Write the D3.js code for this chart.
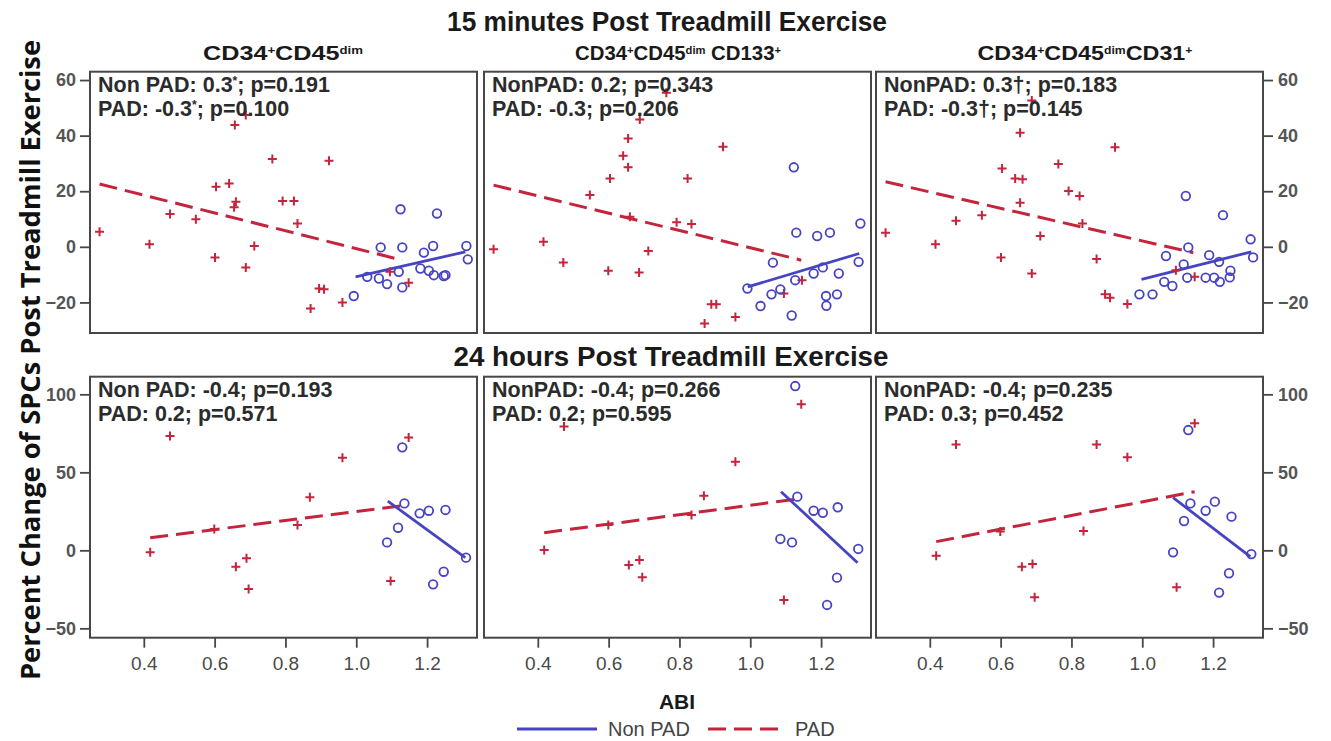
<!DOCTYPE html>
<html><head><meta charset="utf-8">
<script src="https://cdn.jsdelivr.net/npm/d3@7"></script>
<style>body{margin:0;background:#fff}svg{display:block}</style>
</head><body>
<svg id="chart" width="1331" height="741"></svg>
<script>
// ---------- DATA ----------
const xTicks = [0.4, 0.6, 0.8, 1.0, 1.2];
const yTicksTop = [-20, 0, 20, 40, 60];
const yTicksBottom = [-50, 0, 50, 100];
const rowTitles = ["15 minutes Post Treadmill Exercise", "24 hours Post Treadmill Exercise"];
const columnTitles = [
  [["CD34",""],["+","sup"],["CD45",""],["dim","sup"]],
  [["CD34",""],["+","sup"],["CD45",""],["dim","sup"],[" CD133",""],["+","sup"]],
  [["CD34",""],["+","sup"],["CD45",""],["dim","sup"],["CD31",""],["+","sup"]]
];
const statsNonPAD = [
  [["Non PAD: 0.3",""],["*","sup"],["; p=0.191",""]],
  [["NonPAD: 0.2; p=0.343",""]],
  [["NonPAD: 0.3†; p=0.183",""]],
  [["Non PAD: -0.4; p=0.193",""]],
  [["NonPAD: -0.4; p=0.266",""]],
  [["NonPAD: -0.4; p=0.235",""]]
];
const statsPAD = [
  [["PAD: -0.3",""],["*","sup"],["; p=0.100",""]],
  [["PAD: -0.3; p=0.206",""]],
  [["PAD: -0.3†; p=0.145",""]],
  [["PAD: 0.2; p=0.571",""]],
  [["PAD: 0.2; p=0.595",""]],
  [["PAD: 0.3; p=0.452",""]]
];
const legendLabels = ["Non PAD", "PAD"];
const xAxisTitle = "ABI";
const yAxisTitle = "Percent Change of SPCs Post Treadmill Exercise";

// 15 min, CD34+CD45dim
const m15A_pad = [[0.275,5.4],[0.416,0.9],[0.474,11.8],[0.547,9.9],[0.604,21.6],[0.641,22.8],[0.660,16.2],[0.655,14.2],[0.657,43.8],[0.688,47.4],[0.601,-3.8],[0.688,-7.4],[0.712,0.3],[0.763,31.6],[0.792,16.5],[0.824,16.5],[0.834,8.4],[0.923,31.0],[0.895,-15.0],[0.909,-15.3],[0.871,-22.2],[0.961,-20.0],[1.095,-9.0],[1.148,-12.9]];
const m15A_non = [[0.993,-17.7],[1.031,-10.8],[1.064,-11.4],[1.087,-13.4],[1.069,-0.2],[1.130,-0.2],[1.125,13.5],[1.120,-9.0],[1.130,-14.6],[1.181,-7.8],[1.191,-2.1],[1.205,-8.6],[1.217,0.3],[1.219,-10.2],[1.228,12.0],[1.247,-10.5],[1.252,-10.2],[1.311,0.3],[1.315,-4.5]];
const m15A_padFit = [[0.275,22.6],[1.130,-4.8]];
const m15A_nonFit = [[0.998,-10.8],[1.308,-1.8]];
// 15 min, CD34+CD45dimCD133+
const m15B_pad = [[0.275,-0.9],[0.416,1.8],[0.472,-5.6],[0.547,18.6],[0.604,24.6],[0.641,32.8],[0.655,28.6],[0.655,39.0],[0.763,55.4],[0.688,45.8],[0.599,-8.6],[0.686,-9.2],[0.712,-1.5],[0.823,24.6],[0.792,8.8],[0.834,8.2],[0.923,36.0],[0.660,10.8],[0.890,-20.7],[0.904,-20.7],[0.871,-27.6],[0.958,-25.2],[1.095,-16.8],[1.146,-12.0]];
const m15B_non = [[0.992,-15.0],[1.029,-21.3],[1.064,-5.7],[1.060,-17.1],[1.085,-15.3],[1.123,28.6],[1.130,5.1],[1.127,-12.0],[1.117,-24.7],[1.179,-9.6],[1.189,3.9],[1.205,-7.4],[1.225,5.1],[1.250,-9.6],[1.214,-17.7],[1.245,-17.1],[1.215,-21.2],[1.311,8.4],[1.306,-5.4]];
const m15B_padFit = [[0.275,22.2],[1.144,-4.8]];
const m15B_nonFit = [[0.993,-14.4],[1.308,-2.4]];
// 15 min, CD34+CD45dimCD31+
const m15C_pad = [[0.275,5.1],[0.416,0.9],[0.474,9.4],[0.547,11.4],[0.604,28.2],[0.641,24.6],[0.662,24.3],[0.655,41.0],[0.688,52.6],[0.655,15.9],[0.601,-3.8],[0.688,-9.6],[0.712,3.9],[0.763,29.8],[0.792,20.1],[0.823,18.3],[0.831,8.4],[0.923,35.8],[0.871,-4.4],[0.895,-17.1],[0.909,-18.3],[0.958,-20.6],[1.095,-8.4],[1.148,-10.8]];
const m15C_non = [[0.992,-17.1],[1.029,-17.1],[1.067,-3.3],[1.062,-12.6],[1.085,-14.1],[1.123,18.3],[1.130,-0.2],[1.117,-6.3],[1.127,-11.1],[1.179,-11.1],[1.189,-3.0],[1.203,-11.1],[1.217,-5.4],[1.219,-12.6],[1.228,11.4],[1.249,-8.6],[1.247,-11.0],[1.306,2.7],[1.313,-3.8]];
const m15C_padFit = [[0.275,23.4],[1.144,-2.1]];
const m15C_nonFit = [[0.998,-11.7],[1.308,-1.8]];
// 24 h, CD34+CD45dim
const h24A_pad = [[0.418,-1.3],[0.474,73.3],[0.599,13.7],[0.660,-10.5],[0.690,-5.1],[0.696,-24.8],[0.834,16.2],[0.869,34.0],[0.961,59.4],[1.097,-19.7],[1.148,72.4]];
const h24A_non = [[1.087,5.1],[1.118,14.5],[1.130,66.0],[1.136,30.1],[1.179,23.7],[1.205,25.4],[1.217,-21.8],[1.247,-13.7],[1.252,25.9],[1.310,-4.7]];
const h24A_padFit = [[0.418,8.1],[1.130,28.6]];
const h24A_nonFit = [[1.089,31.6],[1.308,-4.7]];
// 24 h, CD34+CD45dimCD133+
const h24B_pad = [[0.418,0.2],[0.474,79.3],[0.599,16.2],[0.657,-9.4],[0.687,-6.2],[0.695,-17.3],[0.834,22.6],[0.869,35.0],[0.958,56.8],[1.095,-31.8],[1.144,93.6]];
const h24B_non = [[1.085,7.3],[1.118,5.1],[1.127,105.3],[1.133,34.4],[1.179,25.4],[1.205,24.1],[1.247,27.6],[1.245,-17.5],[1.217,-35.0],[1.305,0.9]];
const h24B_padFit = [[0.418,11.3],[1.125,32.7]];
const h24B_nonFit = [[1.087,37.6],[1.303,-7.9]];
// 24 h, CD34+CD45dimCD31+
const h24C_pad = [[0.418,-3.4],[0.474,67.9],[0.599,12.0],[0.660,-10.5],[0.690,-8.8],[0.696,-30.1],[0.834,12.4],[0.871,67.9],[0.958,59.6],[1.097,-23.7],[1.148,81.4]];
const h24C_non = [[1.087,-1.3],[1.118,18.8],[1.130,77.1],[1.136,30.1],[1.179,25.4],[1.205,31.2],[1.252,21.6],[1.245,-14.7],[1.217,-27.1],[1.308,-2.4]];
const h24C_padFit = [[0.418,5.6],[1.148,37.6]];
const h24C_nonFit = [[1.087,33.8],[1.305,-4.1]];

const panelData = [
  {pad:m15A_pad, non:m15A_non, padFit:m15A_padFit, nonFit:m15A_nonFit},
  {pad:m15B_pad, non:m15B_non, padFit:m15B_padFit, nonFit:m15B_nonFit},
  {pad:m15C_pad, non:m15C_non, padFit:m15C_padFit, nonFit:m15C_nonFit},
  {pad:h24A_pad, non:h24A_non, padFit:h24A_padFit, nonFit:h24A_nonFit},
  {pad:h24B_pad, non:h24B_non, padFit:h24B_padFit, nonFit:h24B_nonFit},
  {pad:h24C_pad, non:h24C_non, padFit:h24C_padFit, nonFit:h24C_nonFit}
];

// ---------- LAYOUT ----------
const svg = d3.select("#chart");
const colLeft = [90, 484, 876];
const panelW = 387;
const rowTop = [71.7, 376.7];
const rowBottom = [333, 637.7];
const xDomain = [0.248, 1.341];
const yDomains = [[-31, 63], [-56, 111.3]];
const yTickSets = [yTicksTop, yTicksBottom];
const RED = "#c4243c", BLUE = "#4744c2", FRAME = "#474747", TICKTXT = "#555";
const titleFont = "'Liberation Sans Narrow','Liberation Sans',Arial,sans-serif";
const bodyFont = "'Liberation Sans',Arial,sans-serif";

function richText(sel, parts, supSize) {
  parts.forEach(([t, k]) => {
    const ts = sel.append("tspan").text(t);
    if (k === "sup") ts.attr("font-size", supSize).attr("baseline-shift", "super");
  });
}

// Row and column titles
svg.append("text").attr("x", 667).attr("y", 31).attr("text-anchor", "middle")
  .attr("font-family", titleFont).attr("font-weight", "bold").attr("font-size", 27)
  .attr("fill", "#1a1a1a").attr("textLength", 440).attr("lengthAdjust", "spacingAndGlyphs")
  .text(rowTitles[0]);
svg.append("text").attr("x", 671).attr("y", 366).attr("text-anchor", "middle")
  .attr("font-family", titleFont).attr("font-weight", "bold").attr("font-size", 27)
  .attr("fill", "#1a1a1a").attr("textLength", 435).attr("lengthAdjust", "spacingAndGlyphs")
  .text(rowTitles[1]);
const colTitleX = [283, 678, 1085], colTitleW = [160, 206, 215], colTitleSize = [21, 20, 21];
columnTitles.forEach((parts, i) => {
  const t = svg.append("text").attr("x", colTitleX[i]).attr("y", 60).attr("text-anchor", "middle")
    .attr("font-family", titleFont).attr("font-weight", "bold").attr("font-size", colTitleSize[i])
    .attr("fill", "#1a1a1a").attr("textLength", colTitleW[i]).attr("lengthAdjust", "spacingAndGlyphs");
  richText(t, parts, 11);
});

// Panels
panelData.forEach((pd, idx) => {
  const r = Math.floor(idx / 3), c = idx % 3;
  const L = colLeft[c], T = rowTop[r], B = rowBottom[r];
  const x = d3.scaleLinear().domain(xDomain).range([L, L + panelW]);
  const y = d3.scaleLinear().domain(yDomains[r]).range([B, T]);
  const g = svg.append("g");

  g.append("rect").attr("x", L).attr("y", T).attr("width", panelW).attr("height", B - T)
    .attr("fill", "none").attr("stroke", FRAME).attr("stroke-width", 2);

  if (c === 0) {
    const ax = g.append("g").attr("transform", `translate(${L},0)`)
      .call(d3.axisLeft(y).tickValues(yTickSets[r]).tickSize(10).tickPadding(4));
    ax.select(".domain").remove();
    ax.selectAll("line").attr("stroke", FRAME).attr("stroke-width", 1.8);
    ax.selectAll("text").attr("font-family", bodyFont).attr("font-weight", "bold")
      .attr("font-size", 18).attr("fill", TICKTXT);
  }
  if (c === 2) {
    const ax = g.append("g").attr("transform", `translate(${L + panelW},0)`)
      .call(d3.axisRight(y).tickValues(yTickSets[r]).tickSize(10).tickPadding(5));
    ax.select(".domain").remove();
    ax.selectAll("line").attr("stroke", FRAME).attr("stroke-width", 1.8);
    ax.selectAll("text").attr("font-family", bodyFont).attr("font-weight", "bold")
      .attr("font-size", 18).attr("fill", TICKTXT);
  }
  if (r === 1) {
    const ax = g.append("g").attr("transform", `translate(0,${B})`)
      .call(d3.axisBottom(x).tickValues(xTicks).tickFormat(d3.format(".1f")).tickSize(10).tickPadding(9));
    ax.select(".domain").remove();
    ax.selectAll("line").attr("stroke", FRAME).attr("stroke-width", 1.8);
    ax.selectAll("text").attr("font-family", titleFont)
      .attr("font-size", 19).attr("fill", "#4a4a4a");
  }

  const line = d3.line().x(d => x(d[0])).y(d => y(d[1]));
  g.append("path").attr("d", line(pd.padFit)).attr("fill", "none").attr("stroke", RED)
    .attr("stroke-width", 3).attr("stroke-dasharray", "18,8");
  g.append("path").attr("d", line(pd.nonFit)).attr("fill", "none").attr("stroke", BLUE)
    .attr("stroke-width", 2.8);

  g.selectAll(null).data(pd.pad).join("path")
    .attr("d", d => `M${x(d[0]) - 4.5},${y(d[1])}H${x(d[0]) + 4.5}M${x(d[0])},${y(d[1]) - 4.5}V${y(d[1]) + 4.5}`)
    .attr("stroke", RED).attr("stroke-width", 2).attr("fill", "none");
  g.selectAll(null).data(pd.non).join("circle")
    .attr("cx", d => x(d[0])).attr("cy", d => y(d[1])).attr("r", 4.3)
    .attr("fill", "none").attr("stroke", BLUE).attr("stroke-width", 1.8);

  const t1 = g.append("text").attr("x", L + 8).attr("y", T + 20)
    .attr("font-family", bodyFont).attr("font-weight", "bold").attr("font-size", 21.5).attr("fill", "#2b2b2b");
  richText(t1, statsNonPAD[idx], 12);
  const t2 = g.append("text").attr("x", L + 8).attr("y", T + 44.5)
    .attr("font-family", bodyFont).attr("font-weight", "bold").attr("font-size", 21.5).attr("fill", "#2b2b2b");
  richText(t2, statsPAD[idx], 12);
});

// Axis titles
svg.append("text").attr("transform", "translate(40,360) rotate(-90)").attr("text-anchor", "middle")
  .attr("font-family", "'Open Sans','Liberation Sans',Arial,sans-serif").attr("font-weight", "bold")
  .attr("font-size", 26).attr("fill", "#111").attr("textLength", 640).attr("lengthAdjust", "spacingAndGlyphs")
  .text(yAxisTitle);
svg.append("text").attr("x", 677).attr("y", 709).attr("text-anchor", "middle")
  .attr("font-family", titleFont).attr("font-weight", "bold").attr("font-size", 21).attr("fill", "#1a1a1a")
  .text(xAxisTitle);

// Legend
const lg = svg.append("g");
lg.append("line").attr("x1", 517).attr("x2", 597).attr("y1", 729).attr("y2", 729)
  .attr("stroke", BLUE).attr("stroke-width", 3);
lg.append("text").attr("x", 608).attr("y", 736).attr("font-family", titleFont).attr("font-size", 20)
  .attr("fill", "#444").text(legendLabels[0]);
lg.append("line").attr("x1", 708).attr("x2", 778).attr("y1", 729).attr("y2", 729)
  .attr("stroke", RED).attr("stroke-width", 3).attr("stroke-dasharray", "18,8");
lg.append("text").attr("x", 795).attr("y", 736).attr("font-family", titleFont).attr("font-size", 20)
  .attr("fill", "#444").text(legendLabels[1]);
</script>
</body></html>
